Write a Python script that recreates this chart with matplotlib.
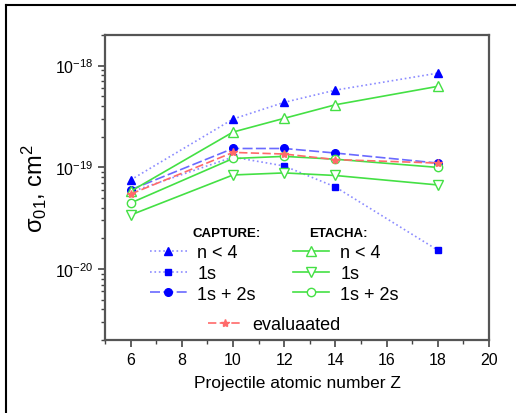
import numpy as np
import matplotlib
matplotlib.use('Agg')
from matplotlib import pyplot as plt
from matplotlib.lines import Line2D
from matplotlib.ticker import LogLocator, NullFormatter

plt.rcParams['font.family'] = ['Liberation Sans', 'DejaVu Sans']
plt.rcParams['mathtext.default'] = 'regular'

Z = [6, 10, 12, 14, 18]

# CAPTURE
cap_n4 = [7.5e-20, 2.98e-19, 4.35e-19, 5.74e-19, 8.43e-19]
cap_1s = [5.7e-20, 1.26e-19, 1.03e-19, 6.4e-20, 1.53e-20]
cap_1s2s = [6.0e-20, 1.53e-19, 1.53e-19, 1.38e-19, 1.10e-19]
# ETACHA
eta_n4 = [5.8e-20, 2.22e-19, 3.03e-19, 4.12e-19, 6.25e-19]
eta_1s = [3.39e-20, 8.4e-20, 8.8e-20, 8.3e-20, 6.7e-20]
eta_1s2s = [4.45e-20, 1.22e-19, 1.28e-19, 1.20e-19, 9.97e-20]
# evaluated
evaluated = [5.45e-20, 1.40e-19, 1.35e-19, 1.19e-19, 1.10e-19]

blue = '#0000ff'
lblue = '#8c8cff'
green = '#44e044'
red = '#ff6a6a'

fig = plt.figure(figsize=(5.16, 4.14), dpi=100)
ax = fig.add_axes([105 / 516, 1 - 341 / 414, 384 / 516, 305 / 414])

h1, = ax.plot(Z, cap_n4, ls=':', color=lblue, lw=1.2, marker='^', ms=6, mfc=blue, mec=blue)
h2, = ax.plot(Z, cap_1s, ls=':', color=lblue, lw=1.2, marker='s', ms=4.5, mfc=blue, mec=blue)
h3, = ax.plot(Z, cap_1s2s, ls=(0, (6, 2)), color='#6a6aff', lw=1.2, marker='o', ms=5.5, mfc=blue, mec=blue)
g1, = ax.plot(Z, eta_n4, ls='-', color=green, lw=1.2, marker='^', ms=6.5, mfc='white', mec=green)
g2, = ax.plot(Z, eta_1s, ls='-', color=green, lw=1.2, marker='v', ms=6.5, mfc='white', mec=green)
g3, = ax.plot(Z, eta_1s2s, ls='-', color=green, lw=1.2, marker='o', ms=6, mfc='white', mec=green)
r1, = ax.plot(Z, evaluated, ls=(0, (5, 2)), color=red, lw=1.2, marker='*', ms=6, mfc=red, mec=red)

ax.set_yscale('log')
ax.set_xlim(5, 20)
ax.set_ylim(2e-21, 2e-18)
ax.set_xticks(range(6, 21, 2))
ax.set_xticks(range(5, 21, 1), minor=True)
ax.set_yticks([1e-20, 1e-19, 1e-18], ['$10^{-20}$', '$10^{-19}$', '$10^{-18}$'])
ax.yaxis.set_minor_locator(LogLocator(base=10, subs=range(2, 10), numticks=20))
ax.yaxis.set_minor_formatter(NullFormatter())
ax.tick_params(which='both', direction='out', colors='#444444', labelcolor='black', labelsize=11.5)
ax.tick_params(which='major', length=5, width=1.2)
ax.tick_params(which='minor', length=3, width=1.0)
for s in ax.spines.values():
    s.set_color('#555555')
    s.set_linewidth(1.6)

ax.set_xlabel('Projectile atomic number Z', fontsize=12.5, labelpad=6)
ax.set_ylabel(r'$\sigma_{01}$, cm$^2$', fontsize=17, labelpad=4)

ax.text(0.227, 0.351, 'CAPTURE:', transform=ax.transAxes, fontsize=9.5,
        fontweight='bold', va='center', ha='left')
ax.text(0.531, 0.351, 'ETACHA:', transform=ax.transAxes, fontsize=9.5,
        fontweight='bold', va='center', ha='left')

leg1 = ax.legend([h1, h2, h3], ['n < 4', '1s', '1s + 2s'],
                 loc='upper left', bbox_to_anchor=(0.076, 0.367), frameon=False,
                 fontsize=13, handlelength=2.0, labelspacing=0.2, handletextpad=0.6)
ax.add_artist(leg1)
leg2 = ax.legend([g1, g2, g3], ['n < 4', '1s', '1s + 2s'],
                 loc='upper left', bbox_to_anchor=(0.448, 0.367), frameon=False,
                 fontsize=13, handlelength=2.0, labelspacing=0.2, handletextpad=0.6)
ax.add_artist(leg2)
ax.legend([r1], ['evaluaated'], loc='upper left', bbox_to_anchor=(0.227, 0.131),
          frameon=False, fontsize=13, handlelength=1.8, handletextpad=0.6)

# outer frame (left and top edges)
fig.add_artist(Line2D([6 / 516, 6 / 516], [0, 1 - 6 / 414], color='black', lw=1.5))
fig.add_artist(Line2D([6 / 516, 1], [1 - 6 / 414, 1 - 6 / 414], color='black', lw=1.5))

fig.savefig('out.png', dpi=100)
plt.close('all')
